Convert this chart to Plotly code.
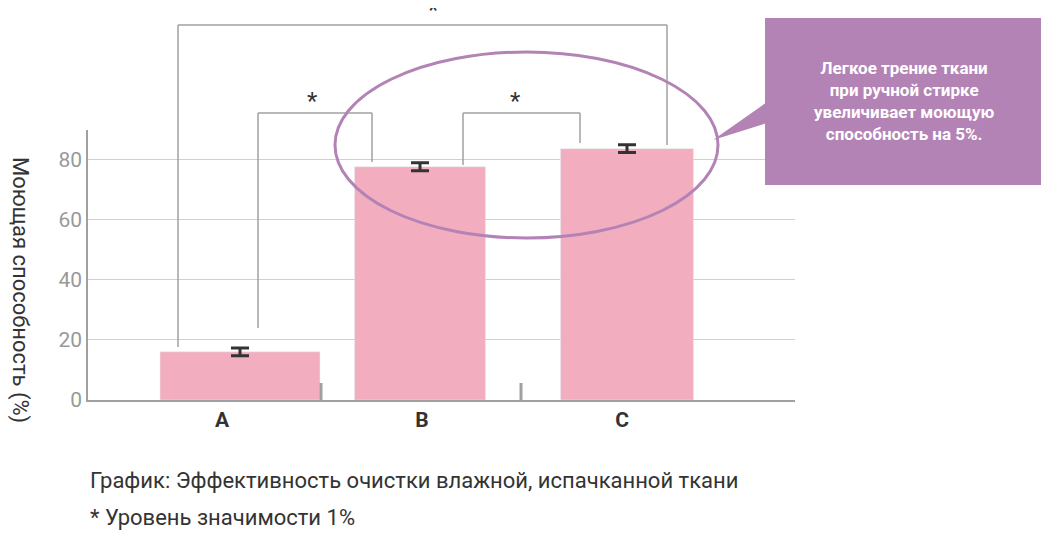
import plotly.graph_objects as go

categories = ["A", "B", "C"]
values = [16.0, 77.5, 83.5]
errors = [1.3, 1.3, 1.3]
y_ticks = [0, 20, 40, 60, 80]

OFF = 8  # page body margin
W, H = 1049 - 2 * OFF, 541 - 2 * OFF
L, R, T, B = 88 - OFF, 795 - OFF, 130 - OFF, 400 - OFF
def px(x): return (x - OFF - L) / (R - L)
def py(y): return (B - (y - OFF)) / (B - T)

xpos = [0, 1, 2]
offsets = [0.09, -0.01, 0.025]
widths = [0.8, 0.655, 0.665]
centers = [p + o for p, o in zip(xpos, offsets)]

fig = go.Figure()
fig.add_bar(x=centers, y=values, width=widths, marker_color="#f2adbf",
            error_y=dict(type="data", array=errors, color="#333", thickness=3, width=9),
            showlegend=False)

gray = "#a0a0a0"
shapes = []
def line(x0, y0, x1, y1, w=1.5, c=gray):
    shapes.append(dict(type="line", xref="paper", yref="paper", x0=px(x0), y0=py(y0),
                       x1=px(x1), y1=py(y1), line=dict(color=c, width=w)))
for (xa, ya, xb, yb, top) in [(178, 347, 667, 145, 25), (258, 328, 372, 162, 113), (463, 165, 580, 143, 113)]:
    line(xa, ya, xa, top); line(xa, top, xb, top); line(xb, top, xb, yb)
line(321, 383, 321, 400, w=3); line(521, 383, 521, 400, w=3)
shapes.append(dict(type="circle", xref="paper", yref="paper", x0=px(335), x1=px(718),
                   y0=py(238), y1=py(52), line=dict(color="#b383b5", width=3)))
shapes.append(dict(type="path", xref="paper", yref="paper",
                   path=f"M {px(713)},{py(140)} L {px(770)},{py(100)} L {px(770)},{py(122)} Z",
                   fillcolor="#b383b5", line=dict(width=0)))
shapes.append(dict(type="rect", xref="paper", yref="paper", x0=px(765), x1=px(1043),
                   y0=py(185), y1=py(18), fillcolor="#b383b5", line=dict(width=0)))
fig.update_layout(shapes=shapes)

def a(x, y, text, size, color="#333", xanchor="center", **kw):
    return dict(x=px(x), y=py(y), xref="paper", yref="paper", text=text, showarrow=False,
                xanchor=xanchor, yanchor="middle", font=dict(size=size, color=color), **kw)

ann = [a(433, 10, "*", 24), a(312, 101, "*", 24), a(515, 101, "*", 24)]
ann.append(a(904, 101, "<b>Легкое трение ткани<br>при ручной стирке<br>увеличивает моющую<br>способность на 5%.</b>",
             17, color="white", align="center"))
ann.append(a(20, 290, "Моющая способность (%)", 22, textangle=90))
ann.append(a(88, 480, "График: Эффективность очистки влажной, испачканной ткани", 22, xanchor="left"))
ann.append(a(88, 517, "* Уровень значимости 1%", 22, xanchor="left"))
fig.update_layout(annotations=ann)

fig.update_layout(
    width=W, height=H, margin=dict(l=L, r=W - R, t=T, b=H - B),
    plot_bgcolor="white", paper_bgcolor="white",
    font=dict(family="Roboto, Arial, sans-serif"),
    xaxis=dict(range=[(88 - 222) / 200, (795 - 222) / 200], tickvals=xpos,
               ticktext=["<b>" + c + "</b>" for c in categories],
               showgrid=False, zeroline=False, showline=True, linecolor=gray, linewidth=1.5,
               tickfont=dict(size=21, color="#333"), ticks=""),
    yaxis=dict(range=[0, 270 / 3.01], tickvals=y_ticks, showgrid=True, gridcolor="#d0d0d0",
               zeroline=False, showline=True, linecolor=gray, linewidth=1.5,
               tickfont=dict(size=21, color="#999"), ticks=""),
)
fig.write_html("out.html")
